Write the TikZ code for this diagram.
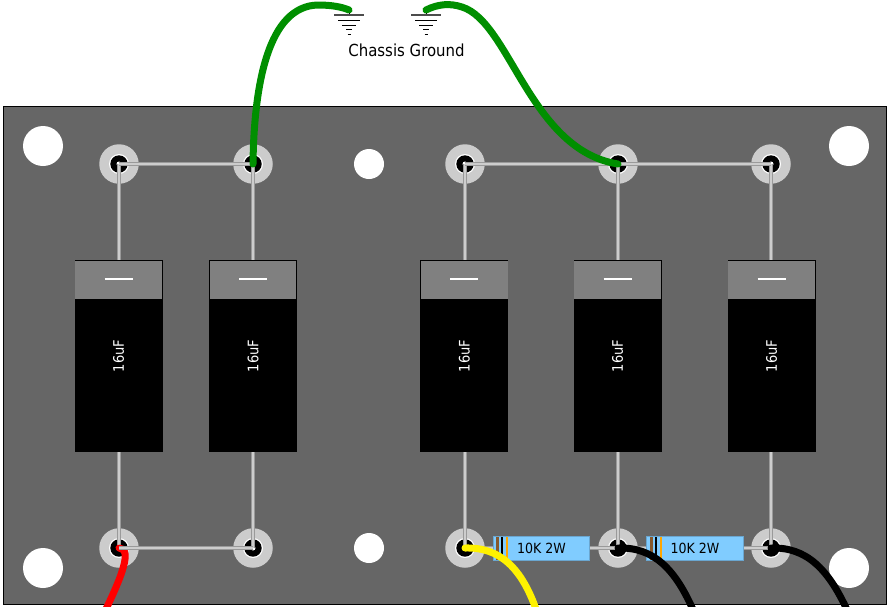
\documentclass[tikz,border=0pt]{standalone}
\usepackage{fontspec}
\setmainfont{DejaVu Sans Condensed}
\definecolor{panel}{HTML}{666666}
\definecolor{ring}{HTML}{CCCCCC}
\definecolor{leadc}{HTML}{CDCDCD}
\definecolor{leade}{HTML}{9A9A9A}
\definecolor{capt}{HTML}{808080}
\definecolor{resf}{HTML}{80CCFF}
\definecolor{rese}{HTML}{6AA6D0}
\definecolor{wgreen}{HTML}{008F00}
\tikzset{
  hole/.style={circle,fill=white,inner sep=0pt,minimum size=#1},
  term/.style={circle,fill=ring,inner sep=0pt,minimum size=39.5pt},
  capbody/.style={rectangle,fill=black,inner sep=0pt,minimum width=88pt,minimum height=192.5pt},
  captop/.style={rectangle,fill=capt,inner sep=0pt,minimum width=86.6pt,minimum height=38.6pt},
  res/.style={rectangle,fill=resf,draw=rese,line width=.8pt,inner sep=0pt,minimum width=96.5pt,minimum height=24pt,font=\fontsize{14}{14}\selectfont},
  leadw/.style={draw=leade,line width=4.6pt,postaction={draw=leadc,line width=2.8pt}},
  hookup/.style={line width=7pt,line cap=round},
  gnd/.style={draw=black,line width=.8pt},
  gndbar/.style={draw=black!70,line width=1.2pt},
}
\newcommand{\terminal}[3]{%
  \node[term] (#1) at (#2,#3) {};
  \fill[white] (#2,#3) circle (10pt);
  \fill[black] (#2,#3) circle (8.7pt);
  \fill[white] (#2,#3) circle (2.5pt);
}
\newcommand{\capacitor}[2]{%
  \node[capbody] (#1) at (#2,356) {};
  \node[captop] (#1t) at (#2,279.8) {};
  \draw[white,line width=1.6pt] (#2-14,279) -- (#2+14,279);
  \node[rotate=90,text=white,font=\fontsize{14.5}{14.5}\selectfont,inner sep=0pt] (#1l) at (#2,356) {16uF};
}
\newcommand{\gndsym}[2]{%
  \coordinate (#1) at (#2,10);
  \draw[gnd] (#2,10) -- (#2,15);
  \draw[gndbar] (#2-15,15) -- (#2+15,15);
  \draw[gnd,line width=1pt] (#2-11,20) -- (#2+11,20);
  \draw[gnd,line width=1pt] (#2-7,25) -- (#2+7,25);
  \draw[gnd,line width=1pt] (#2-3,29.5) -- (#2+3,29.5);
  \draw[gnd,line width=1pt] (#2-1.5,34) -- (#2+1.5,34);
}
\newcommand{\bands}[1]{%
  \fill[brown!70!black] (#1+3,536.5) rectangle (#1+5.5,559.5);
  \fill[black] (#1+8,536.5) rectangle (#1+10,559.5);
  \fill[orange!70!yellow] (#1+13,536.5) rectangle (#1+15,559.5);
}
\begin{document}
\begin{tikzpicture}[x=1pt,y=-1pt]
\useasboundingbox (0,0) rectangle (888,606);
\fill[white] (0,0) rectangle (888,606);
\node[rectangle,fill=panel,draw=black,line width=.8pt,inner sep=0pt,minimum width=883pt,minimum height=498pt] (board) at (444.5,355) {};
\node[hole=40pt] (h1) at (43,146) {};
\node[hole=40pt] (h2) at (849,146) {};
\node[hole=40pt] (h3) at (43,568) {};
\node[hole=40pt] (h4) at (849,568) {};
\node[hole=30pt] (h5) at (369,164) {};
\node[hole=30pt] (h6) at (369,548) {};
\terminal{ta}{119}{164}
\terminal{tb}{253}{164}
\terminal{tc}{465}{164}
\terminal{td}{618}{164}
\terminal{te}{771}{164}
\terminal{ba}{119}{548}
\terminal{bb}{253}{548}
\terminal{bc}{465}{548}
\terminal{bd}{618}{548}
\terminal{be}{771}{548}
\capacitor{ca}{118.7}
\capacitor{cb}{253}
\capacitor{cc}{464.3}
\capacitor{cd}{617.7}
\capacitor{ce}{771.5}
\node[res] (ra) at (541.5,548) {10K 2W};
\node[res] (rb) at (695,548) {10K 2W};
% leads
\path[leadw] (ta.center) -- (ca.north -| ta.center);
\path[leadw] (tb.center) -- (cb.north -| tb.center);
\path[leadw] (tc.center) -- (cc.north -| tc.center);
\path[leadw] (td.center) -- (cd.north -| td.center);
\path[leadw] (te.center) -- (ce.north -| te.center);
\path[leadw] (ba.center) -- (ca.south -| ba.center);
\path[leadw] (bb.center) -- (cb.south -| bb.center);
\path[leadw] (bc.center) -- (cc.south -| bc.center);
\path[leadw] (bd.center) -- (cd.south -| bd.center);
\path[leadw] (be.center) -- (ce.south -| be.center);
\path[leadw] (ta.center) -- (tb.center);
\path[leadw] (tc.center) -- (te.center);
\path[leadw] (bc.center) -- (ra.west);
\path[leadw] (ra.east) -- (bd.center);
\path[leadw] (bd.center) -- (rb.west);
\path[leadw] (rb.east) -- (be.center);
% red goes under the bottom bus
\coordinate (redEnd) at (105,611);
\draw[red,hookup] (ba.center) .. controls (130,549) and (127,566) .. (redEnd);
\path[leadw] (ba.center) -- (bb.center);
\bands{493}
\bands{647}
% hook-up wires
\gndsym{ga}{349}
\gndsym{gb}{426}
\draw[wgreen,hookup] (tb.center) .. controls (254,85) and (268,6) .. (318,5) .. controls (332,5) and (342,7) .. (ga);
\draw[wgreen,hookup] (gb) .. controls (438,4) and (450,3) .. (462,7) .. controls (510,22) and (530,150) .. (td.center);
\coordinate (yelEnd) at (537,612);
\coordinate (blkA) at (694,612);
\coordinate (blkB) at (848,612);
\draw[yellow,hookup] (bc.center) .. controls (500,547) and (522,568) .. (yelEnd);
\draw[black,hookup] (bd.center) .. controls (653,547) and (675,568) .. (blkA);
\draw[black,hookup] (be.center) .. controls (806,547) and (828,568) .. (blkB);
\node[inner sep=0pt,font=\fontsize{16.6}{16.6}\selectfont] (lab) at (406.5,50) {Chassis Ground};
\end{tikzpicture}
\end{document}
